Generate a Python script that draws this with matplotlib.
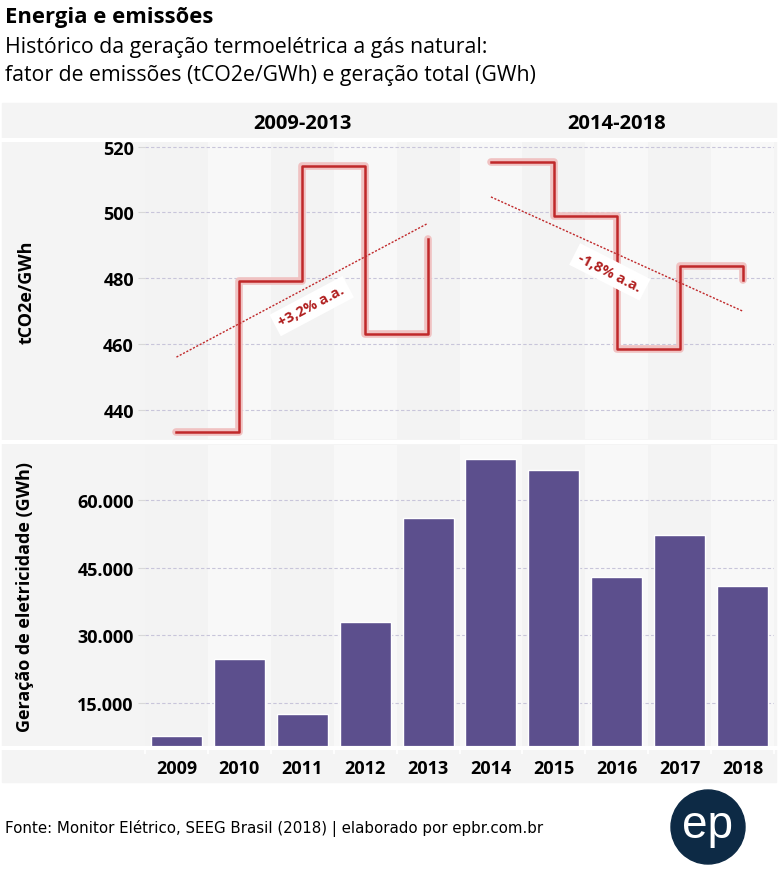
import matplotlib.pyplot as plt
from matplotlib.patches import Rectangle, Ellipse
from matplotlib.lines import Line2D
from matplotlib.ticker import FuncFormatter

# dados
anos = [2009, 2010, 2011, 2012, 2013, 2014, 2015, 2016, 2017, 2018]
periodos = ["2009-2013", "2014-2018"]
fator_2009_2013 = [433.2, 479.0, 514.2, 463.1, 492.0]
fator_2014_2018 = [515.4, 499.0, 458.4, 483.8, 479.3]
tendencia_2009_2013 = [456.0, 496.7]
tendencia_2014_2018 = [504.7, 470.0]
rotulos_tendencia = ["+3,2% a.a.", "-1,8% a.a."]
geracao = [7550, 24650, 12620, 32960, 55990, 69200, 66750, 42840, 52200, 40830]

W, H = 782, 870
FONT = ["Open Sans", "DejaVu Sans"]
plt.rcParams['font.family'] = FONT

red = '#c0282a'
halo = '#f0c2c2'
purple = '#5c4f8d'
grid_c = '#c8c5da'


def fx(px):
    return px / W


def fy(py):
    return 1 - py / H


fig = plt.figure(figsize=(W / 100, H / 100), dpi=100)
fig.add_artist(Rectangle((fx(2), fy(783)), fx(774), (783 - 104) / H,
                         transform=fig.transFigure, color='#f4f4f4', zorder=-5))

# titulos
fig.text(fx(5), fy(17), "Energia e emissões", fontsize=15.8, fontweight='bold', va='center')
fig.text(fx(5), fy(47), "Histórico da geração termoelétrica a gás natural:", fontsize=15.3, va='center')
fig.text(fx(5), fy(75), "fator de emissões (tCO2e/GWh) e geração total (GWh)", fontsize=15.3, va='center')

# cabecalho dos periodos
for i, p in enumerate(periodos):
    fig.text(fx(145 + 629 * (0.25 + 0.5 * i)), fy(124), p, fontsize=14.5, fontweight='bold',
             ha='center', va='center')

ax1 = fig.add_axes([fx(145), fy(440), fx(629), 297 / H])
ax2 = fig.add_axes([fx(145), fy(748), fx(629), 302 / H])

x = list(range(len(anos)))
for ax in (ax1, ax2):
    ax.set_facecolor('#f3f3f3')
    for i in x:
        if i % 2 == 1:
            ax.axvspan(i - 0.5, i + 0.5, color='#f8f8f8', zorder=0, lw=0)
    for s in ax.spines.values():
        s.set_visible(False)
    ax.set_xlim(-0.5, len(anos) - 0.5)
    ax.grid(axis='y', color=grid_c, linestyle=(0, (3, 2)), lw=0.8)
    ax.set_axisbelow(True)
    ax.tick_params(axis='y', length=5, color='#d8d8d8', labelsize=13, pad=3)

# fator de emissoes (linhas em degrau)
ax1.set_ylim(431.1, 521.4)
ax1.set_yticks([440, 460, 480, 500, 520])
ax1.set_yticklabels(['440', '460', '480', '500', '520'], fontweight='bold')
ax1.set_xticks([])
segs = [(x[:5], fator_2009_2013), (x[5:], fator_2014_2018)]
for xs, ys in segs:
    ax1.plot(xs, ys, drawstyle='steps-post', color=halo, lw=5.5,
             solid_capstyle='round', solid_joinstyle='round', zorder=2)
    ax1.plot(xs, ys, drawstyle='steps-post', color=red, lw=1.8, zorder=3)

ax1.plot([x[0], x[4]], tendencia_2009_2013, color=red, lw=1, linestyle=(0, (1.5, 1.2)), zorder=4)
ax1.plot([x[5], x[9]], tendencia_2014_2018, color=red, lw=1, linestyle=(0, (1.5, 1.2)), zorder=4)

box = dict(boxstyle='square,pad=0.35', fc='white', ec='none')
ax1.text(2.15, 471.5, rotulos_tendencia[0], rotation=28, color='#b01e1e', fontsize=10.5,
         fontweight='bold', ha='center', va='center', bbox=box, zorder=5, rotation_mode='anchor')
ax1.text(6.89, 481.9, rotulos_tendencia[1], rotation=-27, color='#b01e1e', fontsize=10.5,
         fontweight='bold', ha='center', va='center', bbox=box, zorder=5, rotation_mode='anchor')

# geracao total (barras)
ax2.bar(x, geracao, width=0.81, color=purple, edgecolor='white', lw=1, zorder=3)
ax2.set_ylim(5200, 72200)
ax2.set_yticks([15000, 30000, 45000, 60000])
ax2.yaxis.set_major_formatter(FuncFormatter(lambda v, p: f"{int(v):,}".replace(',', '.')))
for lab in ax2.get_yticklabels():
    lab.set_fontweight('bold')
ax2.set_xticks(x)
ax2.set_xticklabels([str(a) for a in anos], fontweight='bold', fontsize=13)
ax2.tick_params(axis='x', length=0, pad=9)
ax2.set_xticks([i - 0.5 for i in x] + [len(anos) - 0.5], minor=True)
ax2.tick_params(axis='x', which='minor', length=5, color='white', width=1.2)

# separadores brancos
for py in (141, 443, 749):
    fig.add_artist(Line2D([fx(3), fx(776)], [fy(py), fy(py)], color='white', lw=3,
                          transform=fig.transFigure))

# rotulos dos eixos
fig.text(fx(27), fy(292), "tCO2e/GWh", rotation=90, fontsize=13, fontweight='bold',
         ha='center', va='center')
fig.text(fx(25), fy(597), "Geração de eletricidade (GWh)", rotation=90, fontsize=13,
         fontweight='bold', ha='center', va='center')

# rodape
fig.text(fx(5), fy(829), "Fonte: Monitor Elétrico, SEEG Brasil (2018) | elaborado por epbr.com.br",
         fontsize=10.8, va='center', family=['DejaVu Sans'])
fig.add_artist(Ellipse((fx(708), fy(828)), 74 / W, 74 / H, color='#0d2a45',
                       transform=fig.transFigure))
fig.text(fx(708), fy(826), "ep", color='white', fontsize=33, ha='center', va='center',
         family=['Liberation Sans', 'DejaVu Sans'])

fig.savefig('out.png', dpi=100, facecolor='white')
